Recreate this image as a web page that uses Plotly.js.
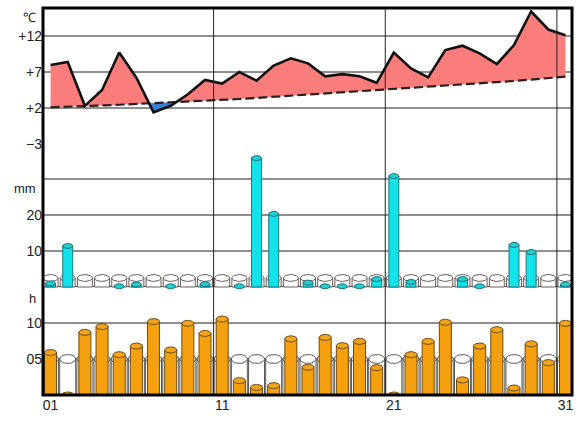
<!DOCTYPE html>
<html><head><meta charset="utf-8">
<script src="https://cdn.plot.ly/plotly-3.0.1.min.js"></script>
<style>html,body{margin:0;padding:0;background:#fff}#chart{width:578px;height:421px}</style>
</head><body><div id="chart"></div>
<script>
// ---- data ----
const days = [1,2,3,4,5,6,7,8,9,10,11,12,13,14,15,16,17,18,19,20,21,22,23,24,25,26,27,28,29,30,31];
const tickDays = [1,11,21,31];
const dayLabels = ['01','11','21','31'];
const tempMean = [7.97,8.4,2.3,4.5,9.7,6.2,1.4,2.3,3.9,5.9,5.4,7.0,5.8,7.9,8.9,8.2,6.4,6.7,6.4,5.5,9.7,7.5,6.25,10.05,10.65,9.6,8.1,10.75,15.4,12.9,12.1];
const tempNormal = [2.1,2.15,2.25,2.35,2.45,2.55,2.65,2.75,2.85,2.98,3.1,3.25,3.4,3.55,3.7,3.85,4.0,4.15,4.3,4.45,4.6,4.75,4.9,5.05,5.25,5.4,5.55,5.75,5.95,6.15,6.35];
const precip = [1.0,11.4,null,null,0.2,0.7,null,0.2,null,0.8,null,0.2,35.8,20.3,null,1.2,0.2,0.2,0.2,2.2,30.8,1.4,null,null,2.2,0.2,null,11.7,9.7,null,0.7];
const precipNormal = [2.5,2.5,2.5,2.5,2.5,2.5,2.5,2.5,2.5,2.5,2.5,2.5,2.5,2.5,2.5,2.5,2.5,2.5,2.5,2.5,2.5,2.5,2.5,2.5,2.5,2.5,2.5,2.5,2.5,2.5,2.5];
const sunshine = [5.9,0,8.7,9.5,5.6,6.8,10.2,6.25,9.95,8.55,10.55,2.0,1.05,1.3,7.8,3.85,8.0,6.85,7.45,3.8,0,5.6,7.45,10.1,2.1,6.8,9.07,0.97,7.1,4.5,9.95];
const sunNormal = [5,5,5,5,5,5,5,5,5,5,5,5,5,5,5,5,5,5,5,5,5,5,5,5,5,5,5,5,5,5,5];
const tempTicks = [12,7,2,-3];
const tempTickText = ['+12','+7','+2','\u22123'];
const precipTicks = [10,20,30];
const precipTickText = ['10','20',''];
const sunTicks = [5,10];
const sunTickText = ['05','10'];

// ---- helpers ----
function ellipses(xs, ys, a, b){
  const X=[],Y=[],N=28;
  for(let i=0;i<xs.length;i++){
    if(ys[i]===null||ys[i]===undefined) continue;
    for(let k=0;k<=N;k++){const t=2*Math.PI*k/N;X.push(xs[i]+a*Math.cos(t));Y.push(ys[i]+b*Math.sin(t));}
    X.push(null);Y.push(null);
  }
  return {X,Y};
}
function capTrace(xs, ys, a, b, fill, line, yaxis){
  const e=ellipses(xs,ys,a,b);
  return {type:'scatter',mode:'lines',x:e.X,y:e.Y,fill:'toself',fillcolor:fill,
    line:{color:line,width:1},yaxis:yaxis,hoverinfo:'skip',connectgaps:false};
}
function barTrace(xs, ys, w, fill, line, yaxis){
  return {type:'bar',x:xs,y:ys,width:w,base:0,marker:{color:fill,line:{color:line,width:1}},yaxis:yaxis,hoverinfo:'skip'};
}

// temperature fill with crossing points
const fx=[],fn=[],fu=[],fl=[];
for(let i=0;i<days.length;i++){
  const T=tempMean[i],N=tempNormal[i];
  fx.push(days[i]);fn.push(N);fu.push(Math.max(T,N));fl.push(Math.min(T,N));
  if(i<days.length-1){
    const d0=T-N,d1=tempMean[i+1]-tempNormal[i+1];
    if(d0*d1<0){
      const t=d0/(d0-d1);
      const xc=days[i]+t*(days[i+1]-days[i]);
      const yc=N+t*(tempNormal[i+1]-N);
      fx.push(xc);fn.push(yc);fu.push(yc);fl.push(yc);
    }
  }
}

const data=[
  {type:'scatter',mode:'lines',x:fx,y:fn,line:{width:0},hoverinfo:'skip'},
  {type:'scatter',mode:'lines',x:fx,y:fu,fill:'tonexty',fillcolor:'#fb7d7b',line:{width:0},hoverinfo:'skip'},
  {type:'scatter',mode:'lines',x:fx,y:fn,line:{width:0},hoverinfo:'skip'},
  {type:'scatter',mode:'lines',x:fx,y:fl,fill:'tonexty',fillcolor:'#3a7fd8',line:{width:0},hoverinfo:'skip'},
  {type:'scatter',mode:'lines',x:days,y:tempNormal,line:{color:'#2a2020',width:2.2,dash:'9px,4px'},hoverinfo:'skip'},
  {type:'scatter',mode:'lines',x:days,y:tempMean,line:{color:'#111',width:2.6},hoverinfo:'skip'},
  // precipitation: normal (empty) cylinders
  barTrace(days,precipNormal,0.87,'#ffffff','#6a5a5a','y2'),
  capTrace(days,precipNormal,0.435,0.95,'#ffffff','#6a5a5a','y2'),
  // precipitation: actual
  barTrace(days,precip,0.58,'#12e3ea','#1a7a80','y4'),
  capTrace(days,precip,0.29,0.7,'#22cfd2','#1a6f74','y4'),
  // sunshine: normal (empty) cylinders
  barTrace(days,sunNormal,0.93,'#ffffff','#5a5a5a','y3'),
  capTrace(days,sunNormal,0.465,0.62,'#ffffff','#5a5a5a','y3'),
  // sunshine: actual
  barTrace(days,sunshine,0.7,'#f5a10f','#6a4a10','y5'),
  capTrace(days,sunshine,0.35,0.42,'#f3a41c','#6a4a10','y5')
];

const gridC='#8e8e8e';
const layout={
  width:578,height:421,margin:{l:43,r:6,t:8,b:26},
  paper_bgcolor:'#fff',plot_bgcolor:'#fff',showlegend:false,barmode:'overlay',
  font:{family:'Liberation Sans, Arial, sans-serif',size:14,color:'#222'},
  xaxis:{range:[0.56,31.38],anchor:'y3',tickvals:tickDays,ticktext:dayLabels,showgrid:false,zeroline:false,showline:false,ticks:'',fixedrange:true},
  yaxis:{domain:[0.62997,1],range:[-4,15.889],anchor:'x',tickvals:tempTicks,ticktext:tempTickText,gridcolor:gridC,gridwidth:2,zeroline:false,ticks:'',showline:false},
  yaxis2:{domain:[0.26512,0.66047],range:[-1.5,41],anchor:'x',tickvals:precipTicks,ticktext:precipTickText,gridcolor:gridC,gridwidth:2,zeroline:true,zerolinecolor:'#333',zerolinewidth:1,ticks:'',showline:false},
  yaxis3:{domain:[0,0.27907],range:[0,15],anchor:'x',tickvals:sunTicks,ticktext:sunTickText,gridcolor:gridC,gridwidth:2,zeroline:false,ticks:'',showline:false},
  yaxis4:{overlaying:'y2',anchor:'x',range:[-1.5,41],visible:false},
  yaxis5:{overlaying:'y3',anchor:'x',range:[0,15],visible:false},
  shapes:[
    {type:'line',xref:'x',yref:'paper',x0:10.5,x1:10.5,y0:0,y1:1,line:{color:'#222',width:1},layer:'above'},
    {type:'line',xref:'x',yref:'paper',x0:20.5,x1:20.5,y0:0,y1:1,line:{color:'#222',width:1},layer:'above'},
    {type:'line',xref:'x',yref:'paper',x0:30.5,x1:30.5,y0:0,y1:1,line:{color:'#222',width:1},layer:'above'},
    {type:'rect',xref:'paper',yref:'paper',x0:0,x1:1,y0:0,y1:1,line:{color:'#000',width:3},layer:'above'}
  ],
  annotations:[
    {text:'\u2103',xref:'paper',yref:'y',x:-0.0095,y:14.6,xanchor:'right',yanchor:'middle',showarrow:false,font:{size:13}},
    {text:'mm',xref:'paper',yref:'y2',x:-0.0095,y:27.4,xanchor:'right',yanchor:'middle',showarrow:false,font:{size:13}},
    {text:'h',xref:'paper',yref:'y3',x:-0.0095,y:13.4,xanchor:'right',yanchor:'middle',showarrow:false,font:{size:13}}
  ]
};
Plotly.newPlot('chart',data,layout,{staticPlot:true,displayModeBar:false});
</script>
</body></html>
